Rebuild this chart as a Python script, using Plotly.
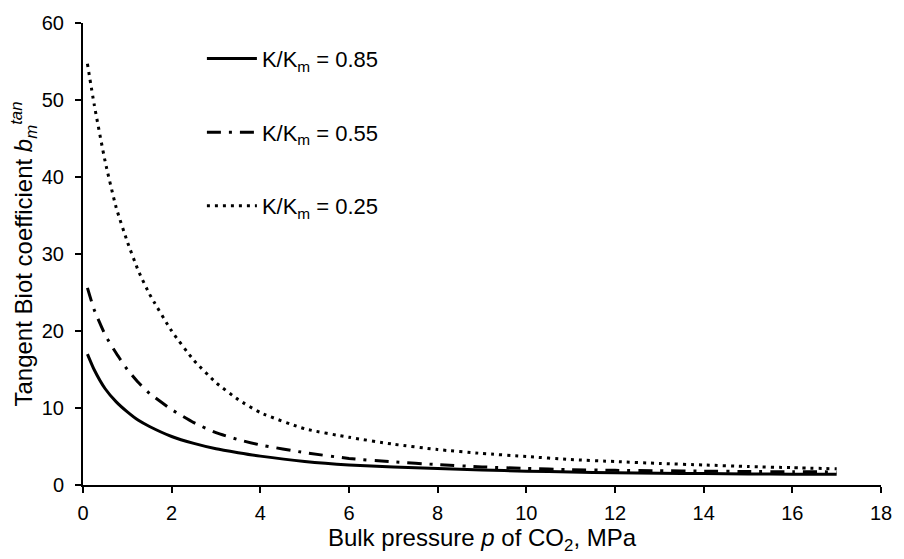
import plotly.graph_objects as go

p = [0.1, 0.25, 0.5, 0.75, 1, 1.25, 1.5, 2, 2.5, 3, 3.5, 4, 5, 6, 7, 8, 9, 10,
     11, 12, 13, 14, 15, 16, 17]

b_085 = [17.0, 15.0, 12.5, 10.8, 9.5, 8.4, 7.6, 6.3, 5.4, 4.7, 4.2, 3.75, 3.05,
         2.6, 2.35, 2.15, 1.95, 1.8, 1.68, 1.6, 1.53, 1.48, 1.44, 1.41, 1.38]
b_055 = [25.6, 22.8, 19.5, 17.1, 15.0, 13.3, 11.9, 9.8, 8.1, 6.8, 5.9, 5.2, 4.2,
         3.45, 3.0, 2.65, 2.35, 2.15, 2.0, 1.9, 1.85, 1.8, 1.75, 1.72, 1.7]
b_025 = [54.7, 49.5, 42.0, 36.0, 31.6, 27.8, 24.8, 20.0, 16.2, 13.3, 11.1, 9.4,
         7.3, 6.2, 5.3, 4.6, 4.1, 3.7, 3.3, 3.05, 2.8, 2.6, 2.4, 2.25, 2.1]

labels = ["K/K<sub>m</sub> = 0.85", "K/K<sub>m</sub> = 0.55", "K/K<sub>m</sub> = 0.25"]
x_ticks = list(range(0, 19, 2))
y_ticks = list(range(0, 61, 10))

font = "Liberation Sans, Arial, sans-serif"

fig = go.Figure()
styles = [
    dict(width=3, dash="solid"),
    dict(width=3, dash="14px,8px,3px,8px"),
    dict(width=3, dash="3px,5px"),
]
for i, (ys, lab, st) in enumerate(zip([b_085, b_055, b_025], labels, styles)):
    fig.add_trace(go.Scatter(
        x=p, y=ys, mode="lines", name=lab, legendgroup=f"g{i}",
        line=dict(color="black", shape="spline", smoothing=0.5, **st),
    ))

axis_common = dict(
    showline=True, linecolor="black", linewidth=2, showgrid=False, zeroline=False,
    ticks="outside", tickwidth=2, ticklen=6, tickcolor="black",
    tickfont=dict(family=font, size=20, color="black"),
)

fig.update_layout(
    width=904, height=559,
    margin=dict(l=83, r=13, t=21, b=74),
    paper_bgcolor="white", plot_bgcolor="white",
    font=dict(family=font, color="black"),
    showlegend=True,
    legend=dict(
        x=0.149, y=0.968, xanchor="left", yanchor="top",
        font=dict(family=font, size=22, color="black"),
        bgcolor="rgba(0,0,0,0)", tracegroupgap=42,
        itemwidth=50,
    ),
    xaxis=dict(
        range=[0, 18], tickvals=x_ticks, ticklabelstandoff=3,
        title=dict(text="Bulk pressure <i>p</i> of CO<sub>2</sub>, MPa",
                   font=dict(family=font, size=24, color="black"), standoff=0),
        **axis_common,
    ),
    yaxis=dict(
        range=[0, 60], tickvals=y_ticks, ticklabelstandoff=7,
        title=dict(text="Tangent Biot coefficient <i>b<sub>m</sub><sup>tan</sup></i>",
                   font=dict(family=font, size=24, color="black"), standoff=2),
        **axis_common,
    ),
)

fig.write_html("out.html")
